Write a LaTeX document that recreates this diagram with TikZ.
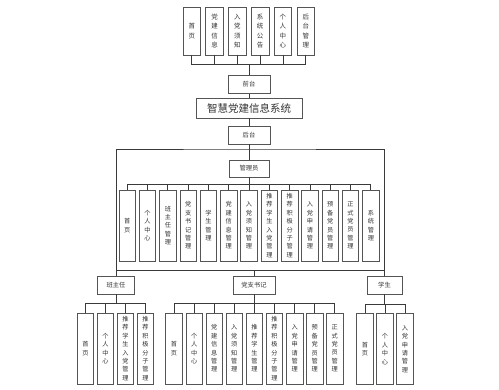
\documentclass[tikz,border=0pt]{standalone}
\usepackage{fontspec}
\newfontfamily\cjk{Noto Sans CJK SC}
\definecolor{boxc}{HTML}{555555}
\definecolor{linec}{HTML}{3A3A3A}
\definecolor{textc}{HTML}{333333}
\begin{document}
\begin{tikzpicture}[x=1pt,y=-1pt,
  box/.style={draw=boxc, line width=0.7pt, inner sep=0pt, fill=white, align=center, text=textc,
    font=\cjk\fontsize{6.3}{9}\selectfont},
  vbox/.style={box, minimum width=16.5pt, minimum height=71pt, font=\cjk\fontsize{6.2}{8.4}\selectfont},
  tbox/.style={box, minimum width=17.5pt, minimum height=48pt, font=\cjk\fontsize{6.5}{9.5}\selectfont},
  hbox/.style={box, minimum width=42pt, minimum height=18pt},
  conn/.style={draw=linec, line width=0.8pt}]
\fill[white] (0,0) rectangle (499,390);
\useasboundingbox (0,0) rectangle (499,390);

% top modules
\foreach \t [count=\i from 0] in {{首\\页},{党\\建\\信\\息},{入\\党\\须\\知},{系\\统\\公\\告},{个\\人\\中\\心},{后\\台\\管\\理}}
  \node[tbox] (t\i) at (191.75+22.8*\i,31) {\t};
\node[hbox] (qt) at (249,84.5) {前台};
\node[box, minimum width=106pt, minimum height=20pt, font=\cjk\fontsize{10.5}{12}\selectfont] (title) at (249,108) {智慧党建信息系统};
\node[hbox] (ht) at (249,135) {后台};
\node[hbox, minimum width=40pt, minimum height=17pt] (gly) at (249,168.5) {管理员};

\coordinate (tbus) at (249,64);
\foreach \i in {0,...,5} \draw[conn] (t\i.south) |- (tbus);
\draw[conn] (tbus) -- (qt.north);
\draw[conn] (qt.south) -- (title.north);
\draw[conn] (title.south) -- (ht.north);
\draw[conn] (ht.south) -- (gly.north);

% admin modules
\foreach \t [count=\i from 0] in {{首\\页},{个\\人\\中\\心},{班\\主\\任\\管\\理},{党\\支\\书\\记\\管\\理},{学\\生\\管\\理},{党\\建\\信\\息\\管\\理},{入\\党\\须\\知\\管\\理},{推\\荐\\学\\生\\入\\党\\管\\理},{推\\荐\\积\\极\\分\\子\\管\\理},{入\\党\\申\\请\\管\\理},{预\\备\\党\\员\\管\\理},{正\\式\\党\\员\\管\\理},{系\\统\\管\\理}}
  \node[vbox] (a\i) at (127.25+20.3*\i,225.5) {\t};
\coordinate (abus) at (249,184);
\foreach \i in {0,...,12} \draw[conn] (a\i.north) |- (abus);
\draw[conn] (gly.south) -- (abus);

% roles
\node[hbox, minimum width=37pt] (bzr) at (116,285) {班主任};
\node[hbox] (dz) at (254,285) {党支书记};
\node[hbox, minimum width=35pt] (xs) at (384.5,285) {学生};
\coordinate (hub) at (249,149);
\coordinate (mid) at (254,270);
\draw[conn] (bzr.north) |- (hub) -| (xs.north);
\draw[conn] (bzr.north |- mid) -- (xs.north |- mid);
\draw[conn] (mid) -- (dz.north);

% 班主任 modules
\foreach \t [count=\i from 0] in {{首\\页},{个\\人\\中\\心},{推\\荐\\学\\生\\入\\党\\管\\理},{推\\荐\\积\\极\\分\\子\\管\\理}}
  \node[vbox, minimum width=15.5pt] (b\i) at (85.5+20*\i,348.5) {\t};
\coordinate (bbus) at (116,303);
\foreach \i in {0,...,3} \draw[conn] (b\i.north) |- (bbus);
\draw[conn] (bzr.south) -- (bbus);

% 党支书记 modules
\foreach \t [count=\i from 0] in {{首\\页},{个\\人\\中\\心},{党\\建\\信\\息\\管\\理},{入\\党\\须\\知\\管\\理},{推\\荐\\学\\生\\管\\理},{推\\荐\\积\\极\\分\\子\\管\\理},{入\\党\\申\\请\\管\\理},{预\\备\\党\\员\\管\\理},{正\\式\\党\\员\\管\\理}}
  \node[vbox] (d\i) at (174+20.1*\i,348.5) {\t};
\coordinate (dbus) at (254,303);
\foreach \i in {0,...,8} \draw[conn] (d\i.north) |- (dbus);
\draw[conn] (dz.south) -- (dbus);

% 学生 modules
\foreach \t [count=\i from 0] in {{首\\页},{个\\人\\中\\心},{入\\党\\申\\请\\管\\理}}
  \node[vbox] (s\i) at (365+20*\i,349) {\t};
\coordinate (sbus) at (384.5,304);
\foreach \i in {0,...,2} \draw[conn] (s\i.north) |- (sbus);
\draw[conn] (xs.south) -- (sbus);
\end{tikzpicture}
\end{document}
